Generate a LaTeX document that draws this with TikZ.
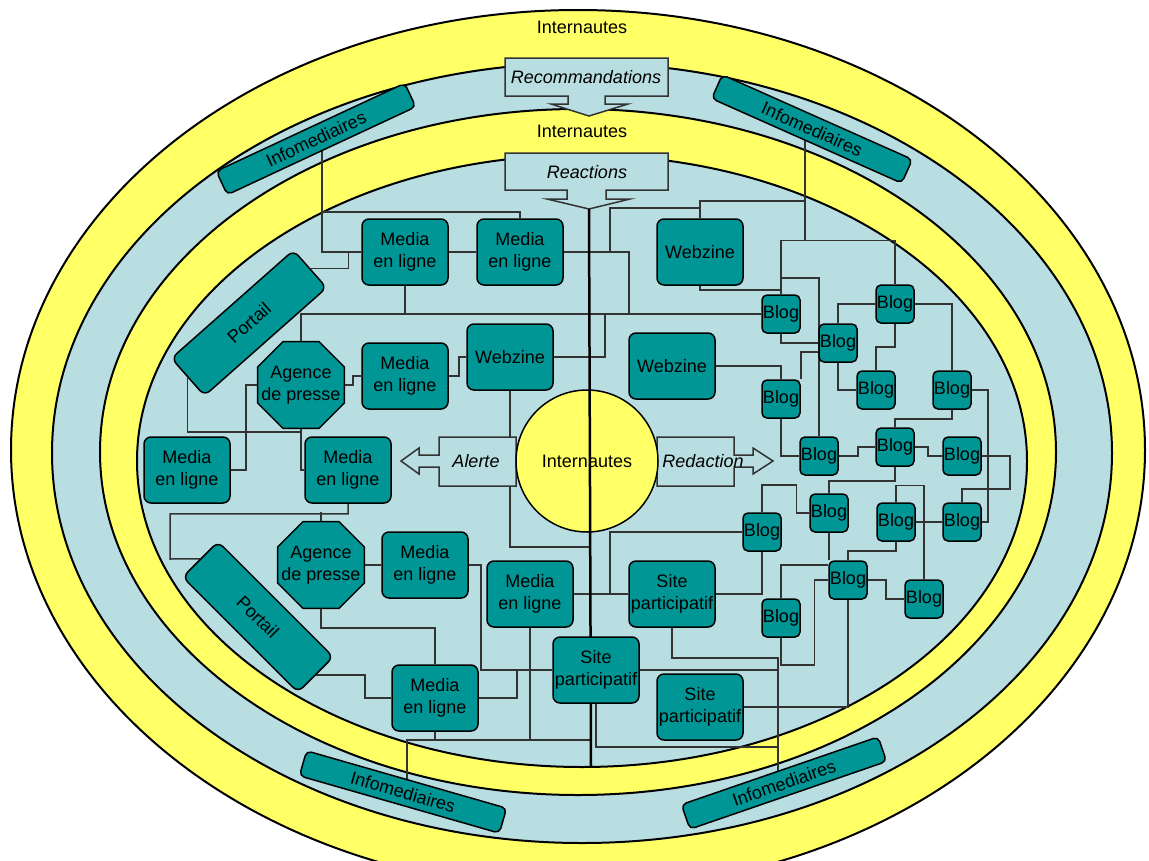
\documentclass[tikz,border=0pt]{standalone}
\usepackage{fontspec}
\setmainfont{Liberation Sans}
\usepackage{tikz}
\usetikzlibrary{shapes.geometric}
\definecolor{jaune}{RGB}{255,255,102}
\definecolor{ciel}{RGB}{185,222,226}
\definecolor{canard}{RGB}{0,150,150}
\pgfdeclarelayer{bands}
\pgfdeclarelayer{lines}
\pgfsetlayers{bands,lines,main}
\tikzset{
band/.style={draw=black,line width=2pt},
etiq/.style={inner sep=0pt,align=center,font=\fontsize{18}{22}\selectfont},
bloc/.style={etiq,draw=black,fill=canard,line width=1.5pt,rounded corners=7pt},
media/.style={bloc,minimum width=86pt,minimum height=66pt},
blog/.style={bloc,minimum width=38pt,minimum height=38pt,rounded corners=5pt},
info/.style={bloc,minimum width=208pt,minimum height=26pt,rounded corners=5pt},
portail/.style={bloc,minimum width=163pt,minimum height=50pt},
agence/.style={draw=black,fill=canard,line width=1.5pt,regular polygon,
  regular polygon sides=8,minimum size=94pt,inner sep=0pt},
bulle/.style={draw=black!80,fill=ciel,line width=1.5pt},
lien/.style={draw=black!80,line width=1.5pt},
}

\begin{document}
\begin{tikzpicture}[x=1pt,y=-1pt]
\useasboundingbox (0,0) rectangle (1149,860);
% the bands
\begin{pgfonlayer}{bands}
\clip (0,0) rectangle (1149,860);
\filldraw[band,fill=jaune] (578,450) ellipse [x radius=567pt,y radius=440pt];
\filldraw[band,fill=ciel] (582,453) ellipse [x radius=530pt,y radius=390pt];
\filldraw[band,fill=jaune] (578,452) ellipse [x radius=478pt,y radius=343pt];
\filldraw[band,fill=ciel] (582,461) ellipse [x radius=445pt,y radius=306pt];
\end{pgfonlayer}

\node[etiq] (int1) at (582,27) {Internautes};
\node[etiq] (int2) at (582,131) {Internautes};

% the arrows
\draw[bulle] (505,58) -- (668,58) -- (668,96) -- (605,96) -- (605,104) -- (628,104)
  -- (589,116) -- (551,104) -- (568,104) -- (568,96) -- (505,96) -- cycle;
\node[etiq,font=\fontsize{18}{22}\selectfont\itshape] (reco) at (586,77) {Recommandations};
\draw[bulle] (505,153) -- (668,153) -- (668,190) -- (606,190) -- (606,199) -- (630,199)
  -- (589,209) -- (547,199) -- (567,199) -- (567,190) -- (505,190) -- cycle;
\node[etiq,font=\fontsize{18}{22}\selectfont\itshape] (reac-t) at (587,172) {Reactions};
\coordinate (reac) at (589,209);
\draw[bulle] (516,437) -- (439,437) -- (439,455) -- (419,455) -- (419,448) -- (401,461)
  -- (419,474) -- (419,467) -- (439,467) -- (439,486) -- (516,486) -- cycle;
\node[etiq,font=\fontsize{18}{22}\selectfont\itshape] (alerte) at (476,461) {Alerte};
\draw[bulle] (657,437) -- (734,437) -- (734,455) -- (753,455) -- (753,448) -- (773,461)
  -- (753,474) -- (753,467) -- (734,467) -- (734,486) -- (657,486) -- cycle;
\node[etiq,font=\fontsize{18}{22}\selectfont\itshape] (redac) at (703,461) {Redaction};

\node[etiq,draw=black,fill=jaune,circle,minimum size=142pt,line width=1.5pt] (centre) at (587,461) {Internautes};
\coordinate (bas) at (591,767);
\draw[black,line width=2.5pt] (reac) -- (bas);

% the nodes
\node[info,rotate=25] (i1) at (316,139) {Infomediaires};
\node[info,rotate=-24] (i2) at (812,129) {Infomediaires};
\node[info,rotate=-16] (i3) at (403,792) {Infomediaires};
\node[info,rotate=19] (i4) at (784,783) {Infomediaires};
\node[portail,rotate=41.5] (p1) at (249,323) {Portail};
\node[portail,rotate=-45] (p2) at (258,617) {Portail};
\node[agence] (ag1) at (301,385) {};
\node[etiq] (ag1t) at (ag1) {Agence\\de presse};
\node[agence] (ag2) at (321,565) {};
\node[etiq] (ag2t) at (ag2) {Agence\\de presse};
\node[media] (m1) at (405,252) {Media\\en ligne};
\node[media] (m2) at (520,252) {Media\\en ligne};
\node[media] (m3) at (405,376) {Media\\en ligne};
\node[media] (m4) at (187,470) {Media\\en ligne};
\node[media] (m5) at (348,470) {Media\\en ligne};
\node[media] (m6) at (425,565) {Media\\en ligne};
\node[media] (m7) at (530,594) {Media\\en ligne};
\node[media] (m8) at (435,698) {Media\\en ligne};
\node[media] (w1) at (510,357) {Webzine};
\node[media] (w2) at (700,252) {Webzine};
\node[media] (w3) at (672,366) {Webzine};
\node[media] (s1) at (672,594) {Site\\participatif};
\node[media] (s2) at (596,670) {Site\\participatif};
\node[media] (s3) at (700,707) {Site\\participatif};
\node[blog] (b1) at (781,314) {Blog};
\node[blog] (b2) at (895,304) {Blog};
\node[blog] (b3) at (838,343) {Blog};
\node[blog] (b4) at (781,399) {Blog};
\node[blog] (b5) at (876,390) {Blog};
\node[blog] (b6) at (952,390) {Blog};
\node[blog] (b7) at (819,456) {Blog};
\node[blog] (b8) at (895,447) {Blog};
\node[blog] (b9) at (962,456) {Blog};
\node[blog] (b10) at (829,513) {Blog};
\node[blog] (b11) at (896,522) {Blog};
\node[blog] (b12) at (962,522) {Blog};
\node[blog] (b13) at (762,532) {Blog};
\node[blog] (b14) at (848,580) {Blog};
\node[blog] (b15) at (924,599) {Blog};
\node[blog] (b16) at (781,618) {Blog};

% the links
\begin{pgfonlayer}{lines}
\begin{scope}[lien]
\draw (i1 -| 322,0) -- (322,252) -- (m1.west);
\draw (m2.north) |- (322,212);
\draw (p1.east) -- ++(38,0) |- (m1.west);
\draw (m1.east) -- (m2.west);
\draw (m1.south) -- (m1.south |- b1.west);
\draw (ag1.north) |- (b1.west);
\draw (ag1.east) -- ++(8,0) |- (m3.west);
\draw (m3.east) -- ++(10,0) |- (w1.west);
\draw (w1.east) -| (605,314);
\draw (m2.east) -| (629,314);
\draw (610,252) |- (700,208);
\draw (w2.north) |- (805,201);
\draw (i2 -| 805,0) -- (805,241);
\draw (b1.north) -- ++(0,-54) -| (b2.north);
\draw (w2.south) |- (781,290);
\draw (781,278) -| (b7.north);
\draw (b1.south) |- (b3.west);
\draw (b3.north) |- (b2.west);
\draw (b2.east) -| (b6.north);
\draw (b2.south) -- ++(0,23) -| (b5.north);
\draw (b3.south) |- (b5.west);
\draw ([yshift=-9pt]b3.west) -| (b4.north east);
\draw (w3.east) -| (b4.north);
\draw (b4.south) |- (b7.west);
\draw (b7.east) -- ++(19,0) |- (b8.west);
\draw (b8.east) -- ++(13,0) |- (b9.west);
\draw (b6.south) -- ++(0,9) -| (b8.north);
\draw (b6.east) -- ++(16,0) |- (b12.east);
\draw (b9.east) -- ++(28,0) -- ++(0,33) -| (b12.north);
\draw (b11.east) -- (b12.west);
\draw (b8.south) -- ++(0,14) -| (b10.north);
\draw (b11.north) -- ++(0,-17) -| (b15.north);
\draw (b10.west) -- ++(-13,0) -- ++(0,-28) -| (b13.north);
\draw (b10.south) -- (b10.south |- b14.north);
\draw (b11.south) -- ++(0,9) -| (b14.north);
\draw (b14.east) -- ++(18,0) |- (b15.west);
\draw ([yshift=15pt]b14.west) -| (b16.north);
\draw (b14.west) -- ++(-14,0) |- (781,665) -- (b16.south);
\draw (b13.west) -| (610,594);
\draw (m7.east) -- (s1.west);
\draw (s1.east) -| (b13.south);
\draw (s1.south) |- (778,658) -- (i4 -| 778,0);
\draw (s2.east) -- (s2.east -| 778,0);
\draw (s3.east) -| (b14.south);
\draw (s2.south) |- (778,747);
\draw (w1.south) |- (591,547);
\draw (i3 -| 407,0) -- (407,740) -- (591,740);
\draw (m7.south) -- (m7.south |- 0,740);
\draw (m8.south) -- (m8.south |- 0,740);
\draw (m6.east) -- ++(12,0) |- (s2.west);
\draw (m8.east) -| (517,670);
\draw (ag2.south) -- ++(0,19) -| (m8.north);
\draw (p2.east) -- ++(49,0) |- (m8.west);
\draw (ag2.east) -- (m6.west);
\draw (m5.south) -- ++(0,10) -| (170,559) -- (p2.west);
\draw (ag2.north) -- ++(0,-9);
\draw (p1.west) |- (302,432);
\draw (ag1.south) |- (m5.west);
\draw (m4.east) -- ++(15,0) |- (ag1.west);
\end{scope}
\end{pgfonlayer}
\end{tikzpicture}
\end{document}
